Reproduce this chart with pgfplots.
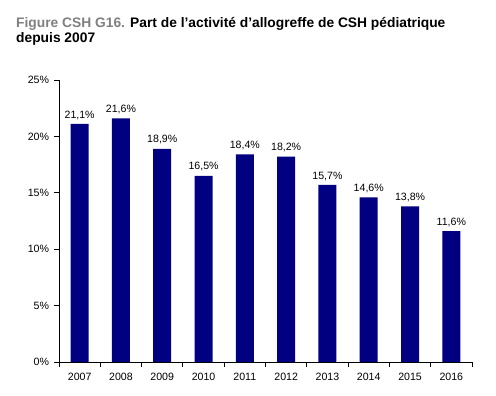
\documentclass[border=0pt]{standalone}
\usepackage{pgfplots}
\pgfplotsset{compat=1.18}
\usepackage{fontspec}
\setmainfont{Liberation Sans}
\definecolor{navybar}{HTML}{000080}
\definecolor{figgray}{HTML}{808080}
\begin{document}
\begin{tikzpicture}[x=1pt,y=1pt]
\useasboundingbox (0,0) rectangle (496,396);
\node[anchor=base west,inner sep=0pt,align=left,font=\fontsize{13.8}{15.5}\selectfont\bfseries] at (16,353)
 {\textcolor{figgray}{Figure CSH G16.} Part de l’activité d’allogreffe de CSH pédiatrique\\depuis 2007};
\begin{axis}[
  at={(59pt,34pt)}, anchor=south west,
  scale only axis, width=413pt, height=282pt,
  ymin=0, ymax=25, ytick={0,5,...,25},
  xmin=-0.5, xmax=9.5,
  xtick={0,...,9},
  xticklabels={2007,2008,2009,2010,2011,2012,2013,2014,2015,2016},
  minor xtick={-0.5,0.5,...,9.5},
  major x tick style={draw=none},
  minor tick length=5pt, major tick length=4.5pt,
  tick align=outside,
  axis x line*=bottom, axis y line*=left,
  axis line style={black, line width=0.8pt},
  tick style={black, line width=0.8pt},
  yticklabel={\pgfmathprintnumber{\tick}\%},
  /pgf/number format/assume math mode=true,
  ticklabel style={font=\fontsize{10.6}{12}\selectfont},
  xticklabel style={yshift=-3pt},
  yticklabel style={xshift=-2pt},
  ybar, bar width=18pt,
  nodes near coords={\pgfmathprintnumber[use comma,fixed,fixed zerofill,precision=1]{\pgfplotspointmeta}\%},
  nodes near coords style={font=\fontsize{10.6}{12}\selectfont, /pgf/number format/assume math mode=true, yshift=1pt},
]
\addplot[fill=navybar, draw=none] coordinates {
 (0,21.1) (1,21.6) (2,18.9) (3,16.5) (4,18.4) (5,18.2) (6,15.7) (7,14.6) (8,13.8) (9,11.6)
};
\end{axis}
\end{tikzpicture}
\end{document}
